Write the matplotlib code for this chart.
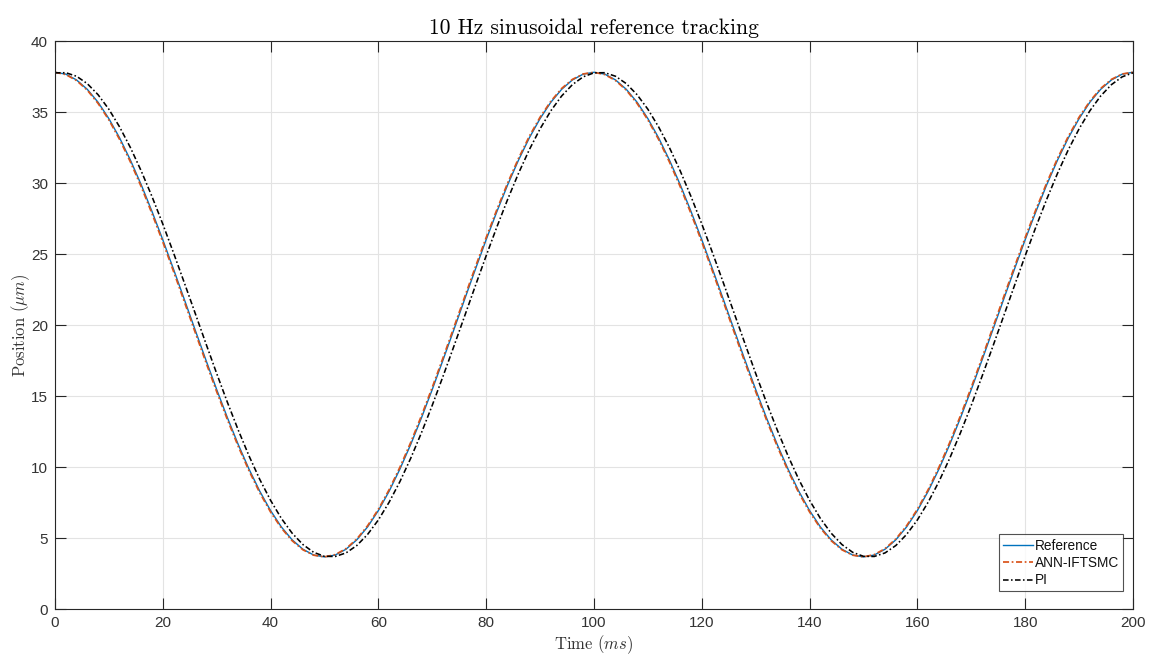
import matplotlib
matplotlib.use("Agg")
import matplotlib.pyplot as plt

# ---- data ----
time_ms = list(range(0, 201, 2))

ref_one = [37.80, 37.67, 37.26, 36.60, 35.69, 34.54, 33.18, 31.62, 29.89, 28.01,
           26.02, 23.94, 21.82, 19.68, 17.56, 15.48, 13.49, 11.61, 9.88, 8.32,
           6.96, 5.81, 4.90, 4.24, 3.83, 3.70, 3.83, 4.24, 4.90, 5.81,
           6.96, 8.32, 9.88, 11.61, 13.49, 15.48, 17.56, 19.68, 21.82, 23.94,
           26.02, 28.01, 29.89, 31.62, 33.18, 34.54, 35.69, 36.60, 37.26, 37.67]
reference = ref_one + ref_one + [37.80]

ann_one = [37.80, 37.64, 37.22, 36.54, 35.61, 34.45, 33.07, 31.49, 29.75, 27.86,
           25.87, 23.79, 21.66, 19.52, 17.40, 15.33, 13.35, 11.48, 9.76, 8.21,
           6.86, 5.73, 4.84, 4.20, 3.82, 3.70, 3.86, 4.28, 4.96, 5.89,
           7.05, 8.43, 10.01, 11.75, 13.64, 15.63, 17.71, 19.84, 21.98, 24.10,
           26.17, 28.15, 30.02, 31.74, 33.29, 34.64, 35.76, 36.66, 37.30, 37.68]
ann_iftsmc = ann_one + ann_one + [37.80]

pi_one = [37.76, 37.77, 37.52, 37.00, 36.22, 35.20, 33.95, 32.50, 30.86, 29.06,
          27.13, 25.09, 22.99, 20.86, 18.72, 16.61, 14.57, 12.63, 10.81, 9.15,
          7.68, 6.41, 5.37, 4.57, 4.02, 3.74, 3.73, 3.98, 4.50, 5.28,
          6.30, 7.55, 9.00, 10.64, 12.44, 14.37, 16.41, 18.51, 20.64, 22.78,
          24.89, 26.93, 28.87, 30.69, 32.35, 33.82, 35.09, 36.13, 36.93, 37.48]
pi_ctrl = pi_one + pi_one + [37.76]

x_ticks = [0, 20, 40, 60, 80, 100, 120, 140, 160, 180, 200]
y_ticks = [0, 5, 10, 15, 20, 25, 30, 35, 40]

# ---- style ----
plt.rcParams['mathtext.fontset'] = 'cm'
plt.rcParams['font.family'] = ['Liberation Sans', 'DejaVu Sans']
plt.rcParams['axes.unicode_minus'] = False

fig = plt.figure(figsize=(11.52, 6.55), dpi=100)
ax = fig.add_axes([0.0477, 0.0695, 0.9358, 0.8679])

axc = '#262626'
lblc = '#333333'
dd = (3.5, 1.5, 1.0, 1.5)
ax.plot(time_ms, reference, color='#0072BD', lw=1.0, ls='-', label='Reference')
ax.plot(time_ms, ann_iftsmc, color='#D95319', lw=1.25, dashes=dd, label='ANN-IFTSMC')
ax.plot(time_ms, pi_ctrl, color='black', lw=1.15, dashes=dd, label='PI')

ax.set_xlim(0, 200)
ax.set_ylim(0, 40)
ax.set_xticks(x_ticks)
ax.set_yticks(y_ticks)
ax.grid(True, color='#e3e3e3', lw=0.8)
ax.set_axisbelow(True)
ax.tick_params(direction='in', length=7.7, width=0.8, colors=axc, labelsize=11,
               top=True, right=True, pad=5)
for lab in ax.get_xticklabels() + ax.get_yticklabels():
    lab.set_color(lblc)
for s in ax.spines.values():
    s.set_color(axc)
    s.set_linewidth(0.8)

ax.set_title('10 Hz sinusoidal reference tracking', fontfamily='cmr10', fontsize=15.5,
             color='black', pad=5)
ax.set_xlabel(r'Time ($ms$)', fontfamily='cmr10', fontsize=12, labelpad=2, color=lblc)
ax.set_ylabel(r'Position ($\mu m$)', fontfamily='cmr10', fontsize=12, labelpad=-1, color=lblc)

leg = ax.legend(loc='lower right', bbox_to_anchor=(0.9907, 0.0317), borderaxespad=0,
                fontsize=9.8, frameon=True, fancybox=False,
                handlelength=2.2, handletextpad=0.15, borderpad=0.3, labelspacing=0.25)
leg.get_frame().set_edgecolor(axc)
leg.get_frame().set_linewidth(0.8)
for t in leg.get_texts():
    t.set_color('#111111')

fig.savefig('out.png', dpi=100)
